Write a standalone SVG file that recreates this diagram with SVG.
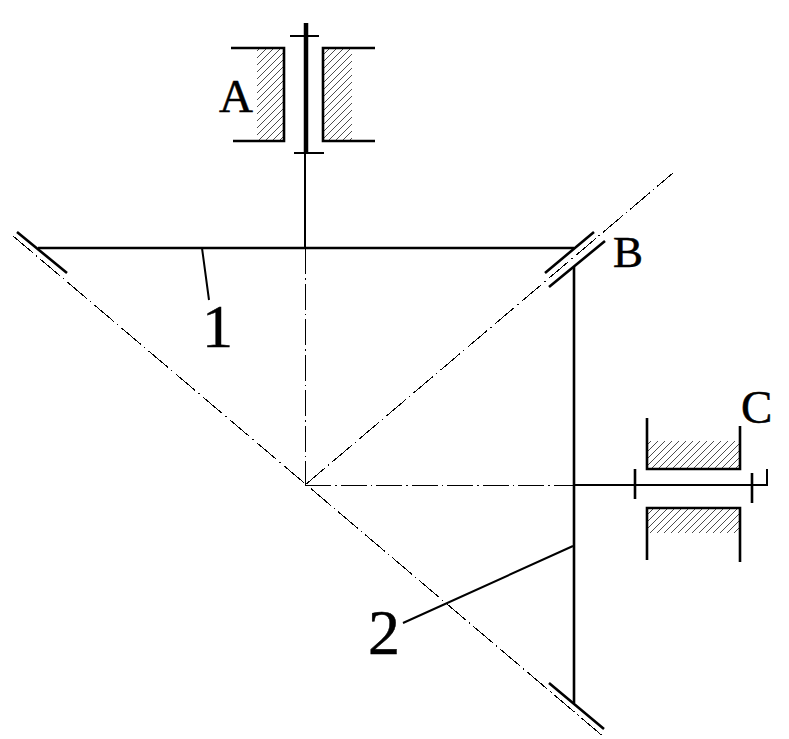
<svg xmlns="http://www.w3.org/2000/svg" width="789" height="739" viewBox="0 0 789 739">
<style>
.t{stroke:#000;stroke-width:2.6;fill:none;stroke-linecap:butt}
.m{stroke:#000;stroke-width:2;fill:none}
.c{stroke:#000;stroke-width:1;fill:none;stroke-dasharray:26 4 1.5 4;shape-rendering:crispEdges}
.h{fill:url(#hatch);stroke:none}
text{font-family:"Liberation Serif","Times New Roman",serif;fill:#000;stroke:#000;stroke-width:0.5}
</style>
<defs>
<pattern id="hatch" patternUnits="userSpaceOnUse" width="7" height="7">
<path d="M-1,8 L8,-1 M-1,1 L1,-1 M6,8 L8,6" stroke="#000" stroke-width="0.7" fill="none"/>
</pattern>
</defs>
<rect width="789" height="739" fill="#fff"/>
<g id="bearing-A">
<rect class="h" x="257" y="48" width="27" height="93"/>
<rect class="h" x="323" y="48" width="29" height="93"/>
<path class="t" d="M231,48H284V141H233M375,48H323V141H375"/>
<path d="M306,23V153" stroke="#000" stroke-width="4.5" fill="none"/>
<path class="m" d="M290,36H319M294,153H324M305,153V248"/>
</g>
<g id="bearing-C">
<rect class="h" x="647" y="441" width="93" height="28"/>
<rect class="h" x="647" y="508" width="93" height="25"/>
<path class="t" d="M647,418V469H740V426M647,560V508H740V562"/>
<path class="t" d="M635,469V499M752,473V503"/>
<path class="m" d="M575,485H767V469"/>
</g>
<g id="connectors">
<path class="t" d="M38,248H574M574,267V703"/>
<path class="t" d="M17,232L67,273M545,273L594,232M549,287L605,241M549,683L604,729"/>
<path class="m" d="M202,248L209,300M403,623L573,546"/>
<path class="c" d="M305.5,248V485"/>
<path class="c" d="M305,485.5H575"/>
<path class="c" d="M305,485L673,173"/>
<path class="c" d="M13,236L605,738"/>
</g>
<g id="labels">
<text x="219" y="112" font-size="47">A</text>
<text x="613" y="267" font-size="45">B</text>
<text x="741" y="423" font-size="47">C</text>
<text x="202" y="347" font-size="62">1</text>
<text x="368" y="654" font-size="64">2</text>
</g>
</svg>
